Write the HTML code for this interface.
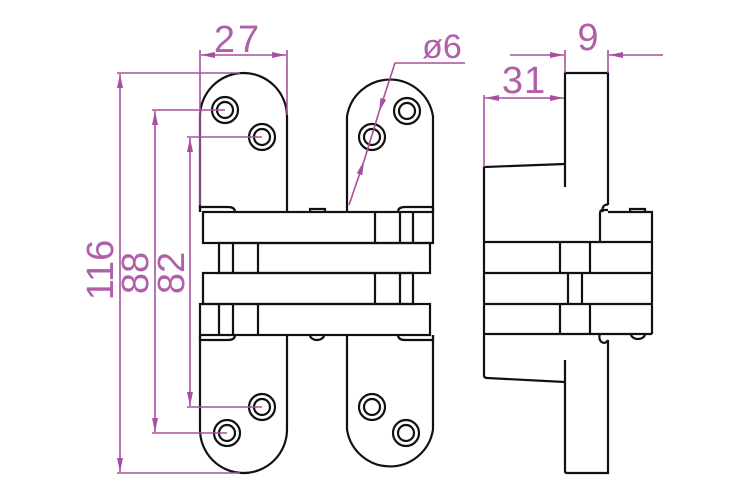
<!DOCTYPE html>
<html><head><meta charset="utf-8"><style>html,body{margin:0;padding:0;background:#fff}svg{display:block}</style></head>
<body>
<svg width="750" height="500" viewBox="0 0 750 500" xmlns="http://www.w3.org/2000/svg">
<defs>
<marker id="a" markerWidth="14" markerHeight="8" refX="14" refY="4" orient="auto" markerUnits="userSpaceOnUse"><path d="M0,1 L14,4 L0,7 Z" fill="#a8509e"/></marker>
</defs>
<g fill="none" stroke="#111" stroke-width="2.2">
<path d="M200,212 V116.5 A43.5,43.5 0 0 1 287,116.5 V212"/>
<path d="M200,335 V429.5 A43.5,43.5 0 0 0 287,429.5 V335"/>
<path d="M347,212 V116.5 A43.5,43.5 0 0 1 433,116.5 V212"/>
<path d="M347,335 V429.5 A43.5,43.5 0 0 0 433,429.5 V335"/>
<path d="M200,212 V207 H228 Q235,207 235,212"/>
<path d="M433,212 V207 H405 Q398,207 398,212"/>
<path d="M310,212 V209 H325 V212"/>
<path d="M200,335 V340 H228 Q235,340 235,335"/>
<path d="M433,335 V340 H405 Q398,340 398,335"/>
<path d="M310,335 A7,5 0 0 0 324,335"/>
<rect x="203" y="212" width="230" height="31"/>
<path d="M375,212V243M400,212V243M413,212V243"/>
<rect x="219" y="243" width="211" height="30"/>
<path d="M233,243V273M258,243V273"/>
<rect x="203" y="273" width="210" height="31"/>
<path d="M375,273V304M400,273V304"/>
<rect x="200" y="304" width="230" height="31"/>
<path d="M219,304V335M233,304V335M258,304V335"/>
<circle cx="225" cy="110" r="13"/><circle cx="225" cy="110" r="8"/>
<circle cx="262" cy="137" r="13"/><circle cx="262" cy="137" r="8"/>
<circle cx="407" cy="111" r="13"/><circle cx="407" cy="111" r="8"/>
<circle cx="372" cy="137" r="13"/><circle cx="372" cy="137" r="8"/>
<circle cx="262" cy="407" r="13"/><circle cx="262" cy="407" r="8"/>
<circle cx="227" cy="433" r="13"/><circle cx="227" cy="433" r="8"/>
<circle cx="372" cy="407" r="13"/><circle cx="372" cy="407" r="8"/>
<circle cx="406" cy="433" r="13"/><circle cx="406" cy="433" r="8"/>
<path d="M565,187 V73 H608 V205"/>
<path d="M484,242 V167 L565,164"/>
<path d="M484,334 V375 Q484,378 487,378 L565,382"/>
<path d="M565,360 V471 Q565,473 567,473 H608 V340"/>
<path d="M600,242 V213 Q600,210 603,210 H608 M608,205 A4,5 0 0 0 603,212 M608,212 H652 V334"/>
<path d="M484,242 H652 M484,273 H652 M484,304 H652 M484,334 H652 M484,242 V334"/>
<path d="M560,242V273M590,242V273M568,273V304M582,273V304M560,304V334M590,304V334"/>
<path d="M630,212 V209 H645 V212"/>
<path d="M600,334 A4,5 0 0 0 608,340"/>
<path d="M631,334 A7,5 0 0 0 645,334"/>
</g>
<g fill="none" stroke="#a8509e" stroke-width="1.6">
<path d="M117,73 H240 M117,473 H240"/>
<path d="M120,274 V74" marker-end="url(#a)"/><path d="M120,274 V472" marker-end="url(#a)"/>
<path d="M152,110 H225 M152,433 H227"/>
<path d="M155,274 V111" marker-end="url(#a)"/><path d="M155,274 V432" marker-end="url(#a)"/>
<path d="M187,137 H262 M187,407 H262"/>
<path d="M190,274 V138" marker-end="url(#a)"/><path d="M190,274 V406" marker-end="url(#a)"/>
<path d="M200,50 V205 M287,50 V115"/>
<path d="M243,55 H201" marker-end="url(#a)"/><path d="M243,55 H286" marker-end="url(#a)"/>
<path d="M465,63 H395 L379,112" marker-end="url(#a)"/>
<path d="M349,205 L364,161" marker-end="url(#a)"/>
<path d="M364,161 L379,112"/>
<path d="M565,50 V73 M608,50 V73"/>
<path d="M510,55 H564" marker-end="url(#a)"/><path d="M663,55 H609" marker-end="url(#a)"/>
<path d="M484,95 V167"/>
<path d="M524,98 H485" marker-end="url(#a)"/><path d="M524,98 H564" marker-end="url(#a)"/>
</g>
<g fill="#b060a8" font-family="Liberation Sans, sans-serif" font-size="38" text-anchor="middle">
<text x="238" y="52" letter-spacing="3">27</text>
<text x="442" y="58" font-size="34">ø6</text>
<text x="588" y="50">9</text>
<text x="524" y="93" letter-spacing="1">31</text>
<text transform="translate(113,270) rotate(-90)">116</text>
<text transform="translate(148,273) rotate(-90)">88</text>
<text transform="translate(184,273) rotate(-90)">82</text>
</g>
</svg>
</body></html>
